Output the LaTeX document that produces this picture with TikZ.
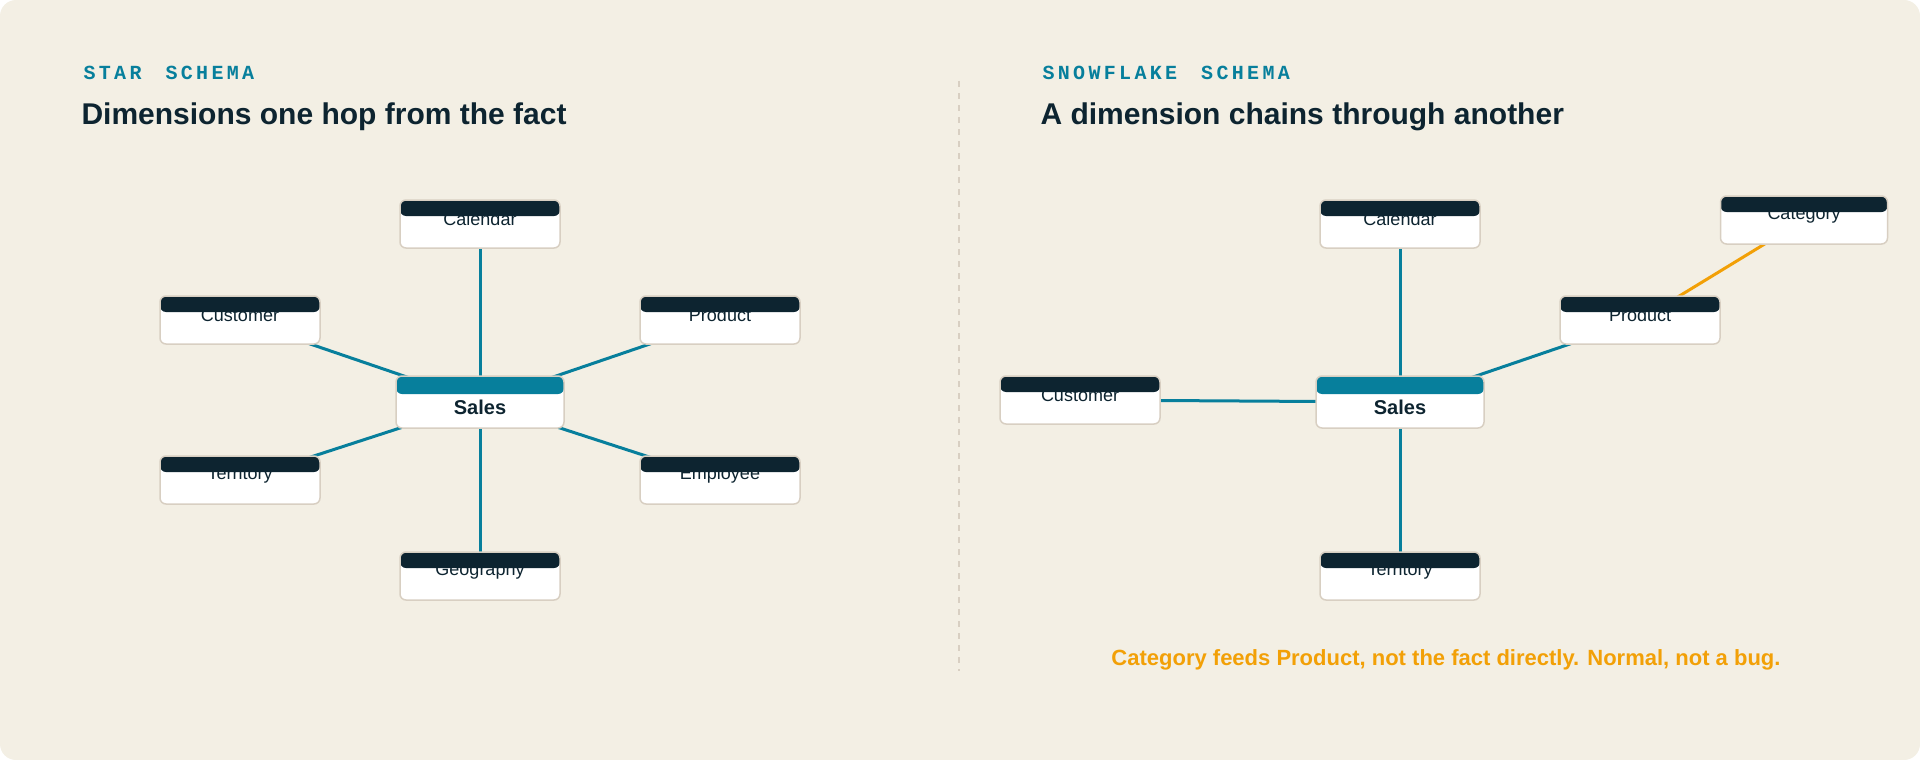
\documentclass[tikz,border=0pt]{standalone}
\usepackage{fontspec}
\setmainfont{Liberation Sans}
\setmonofont{Liberation Mono}
\definecolor{bg}{HTML}{F3EFE4}
\definecolor{dark}{HTML}{0D2430}
\definecolor{teal}{HTML}{077F9C}
\definecolor{org}{HTML}{F2A007}
\definecolor{bord}{HTML}{D8CFC2}
\begin{document}
\begin{tikzpicture}[x=1pt,y=-1pt,
 box/.style={draw=bord,line width=1.5pt,fill=white,rounded corners=6pt,minimum width=160pt,minimum height=48pt,inner sep=0pt},
 hd/.style={path picture={\fill[#1] ([yshift=2pt]path picture bounding box.north west) rectangle ([yshift=-16pt]path picture bounding box.north east);}},
 fact/.style={box,minimum width=168pt,minimum height=52pt,path picture={\fill[teal] ([yshift=2pt]path picture bounding box.north west) rectangle ([yshift=-18pt]path picture bounding box.north east);}},
 lbl/.style={font=\fontsize{18}{20}\selectfont,text=dark},
 edge/.style={teal,line width=3pt},
 kick/.style={font=\ttfamily\bfseries\fontsize{20}{22}\selectfont,text=teal,anchor=west},
 ttl/.style={font=\bfseries\fontsize{30}{34}\selectfont,text=dark,anchor=west}]
\useasboundingbox (0,0) rectangle (1920,760);
\fill[bg,rounded corners=16pt] (0,0) rectangle (1920,760);
% star coordinates
\coordinate (sS) at (480,402);
\coordinate (sCal) at (480,224);
\coordinate (sCus) at (240,320);
\coordinate (sPro) at (720,320);
\coordinate (sTer) at (240,480);
\coordinate (sEmp) at (720,480);
\coordinate (sGeo) at (480,576);
\foreach \t in {sCal,sCus,sPro,sTer,sEmp,sGeo} \draw[edge] (sS) -- (\t);
% snowflake coordinates
\coordinate (fS) at (1400,402);
\coordinate (fCal) at (1400,224);
\coordinate (fCat) at (1804,220);
\coordinate (fPro) at (1640,320);
\coordinate (fCus) at (1080,400);
\coordinate (fTer) at (1400,576);
\draw[edge] (fS) -- (fCal);
\draw[edge] (fS) -- (fPro);
\draw[edge] (fS) -- (fCus);
\draw[edge] (fS) -- (fTer);
\draw[org,line width=3pt] (fPro) -- (fCat);
% divider
\coordinate (dA) at (959,81);
\coordinate (dB) at (959,671);
\draw[bord,line width=2pt,dash pattern=on 6pt off 6pt] (dA) -- (dB);
% headings
\node[kick] (k1) at (80,73) {S\,T\,A\,R\ \ S\,C\,H\,E\,M\,A};
\node[ttl] (t1) at (78,117) {Dimensions one hop from the fact};
\node[kick] (k2) at (1039,73) {S\,N\,O\,W\,F\,L\,A\,K\,E\ \ S\,C\,H\,E\,M\,A};
\node[ttl] (t2) at (1037,117) {A dimension chains through another};
% star nodes
\node[fact] (nS) at (sS) {};
\node[lbl,font=\bfseries\fontsize{20}{22}\selectfont] (lS) at (480,407) {Sales};
\foreach \n/\c/\t in {nCal/sCal/Calendar,nCus/sCus/Customer,nPro/sPro/Product,nTer/sTer/Territory,nEmp/sEmp/Employee,nGeo/sGeo/Geography}{
  \node[box,hd=dark] (\n) at (\c) {};
  \node[lbl] (\n L) at ([yshift=5pt]\c) {\t};
}
% snowflake nodes
\node[fact] (mS) at (fS) {};
\node[lbl,font=\bfseries\fontsize{20}{22}\selectfont] (mSL) at (1400,407) {Sales};
\foreach \n/\c/\t in {mCal/fCal/Calendar,mPro/fPro/Product,mCus/fCus/Customer,mTer/fTer/Territory}{
  \node[box,hd=dark] (\n) at (\c) {};
  \node[lbl] (\n L) at ([yshift=5pt]\c) {\t};
}
\node[box,hd=dark,minimum width=167pt] (mCat) at (fCat) {};
\node[lbl] (mCatL) at ([yshift=5pt]fCat) {Category};
\node[font=\bfseries\fontsize{22}{24}\selectfont,text=org] (note) at (1446,660) {Category feeds Product, not the fact directly. Normal, not a bug.};
\end{tikzpicture}
\end{document}
